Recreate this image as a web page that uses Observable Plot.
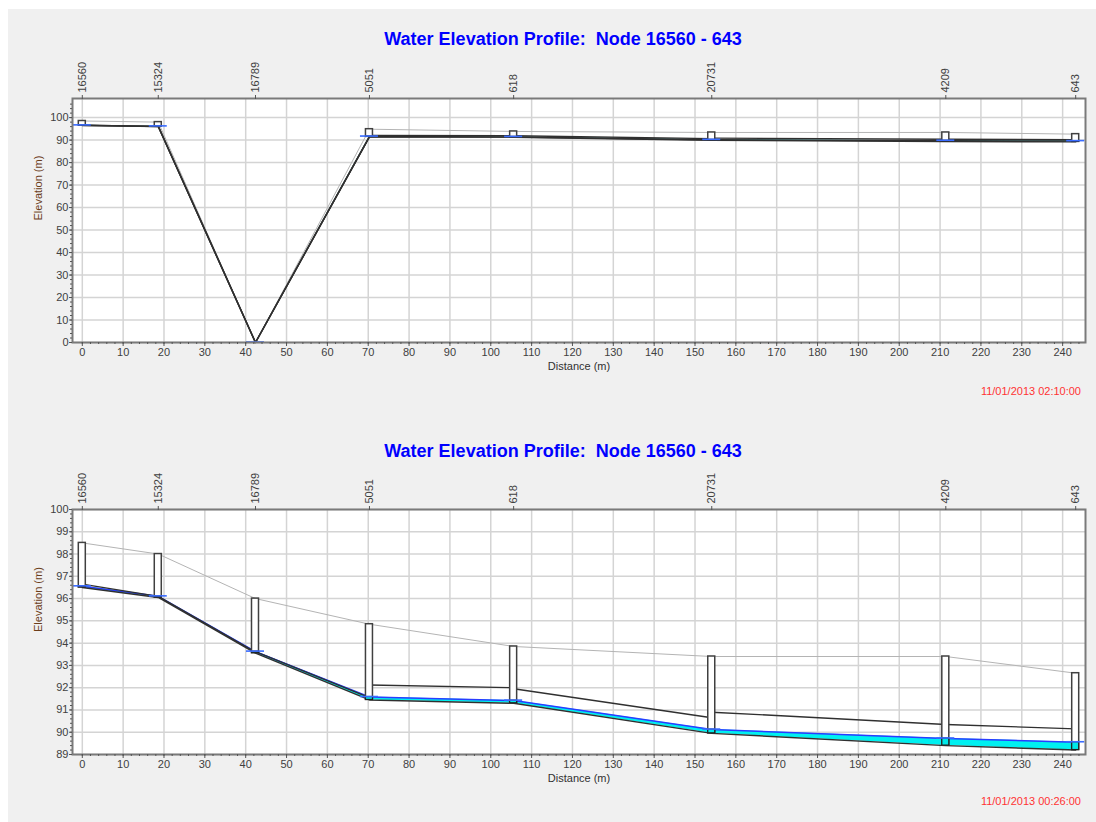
<!DOCTYPE html>
<html><head><meta charset="utf-8">
<script src="https://cdn.jsdelivr.net/npm/d3@7"></script>
<script src="https://cdn.jsdelivr.net/npm/@observablehq/plot@0.6"></script>
<style>
body{margin:0;background:#fff;width:1096px;height:822px;position:relative;overflow:hidden;font-family:"Liberation Sans",Arial,sans-serif;}
#bg{position:absolute;left:8px;top:9px;right:0;bottom:0;background:#f0f0f0;}
.title{position:absolute;left:0;width:1126px;text-align:center;font-weight:bold;font-size:18px;color:#0000ff;white-space:pre;}
.stamp{position:absolute;right:15px;font-size:11px;color:#ff3333;}
.chart{position:absolute;left:0;}
</style></head><body>
<div id="bg"></div>
<div class="title" style="top:29px">Water Elevation Profile:  Node 16560 - 643</div>
<div class="chart" id="c1" style="top:50px"></div>
<div class="stamp" style="top:385px">11/01/2013 02:10:00</div>
<div class="title" style="top:441px">Water Elevation Profile:  Node 16560 - 643</div>
<div class="chart" id="c2" style="top:461px"></div>
<div class="stamp" style="top:795px">11/01/2013 00:26:00</div>
<script>
// Nodes along the profile
const nodes = ["16560", "15324", "16789", "5051", "618", "20731", "4209", "643"];
const distance = [0, 18.6, 42.4, 70.3, 105.6, 154.1, 211.4, 243.2];

// Bottom chart (11/01/2013 00:26:00)
const invert0026 = [96.5, 96.05, 93.55, 91.45, 91.3, 89.95, 89.4, 89.2];
const ground0026 = [98.5, 98.0, 96.0, 94.85, 93.85, 93.4, 93.4, 92.65];
const water0026 = [96.55, 96.1, 93.62, 91.58, 91.42, 90.12, 89.72, 89.55];
const crownUp0026 = [96.65, 96.1, 93.62, 92.12, 91.95, 90.9, 90.35];
const crownDown0026 = [96.1, 93.6, 91.55, 92.0, 90.65, 90.35, 90.15];

// Top chart (11/01/2013 02:10:00) - node 16789 reads 0
const invert0210 = [96.5, 96.05, 0, 91.45, 91.3, 89.95, 89.4, 89.2];
const ground0210 = [98.5, 98.0, 0, 94.85, 93.85, 93.4, 93.4, 92.65];
const water0210 = [96.55, 96.1, 0, 91.58, 91.42, 90.12, 89.72, 89.55];
const crownUp0210 = [96.65, 96.1, 0, 92.12, 91.95, 90.9, 90.35];
const crownDown0210 = [96.1, 0, 91.55, 92.0, 90.65, 90.35, 90.15];

// Axis ticks
const xMajor = d3.range(0, 241, 10);
const xMinor = d3.range(0, 245, 2);
const yMajorTop = d3.range(0, 101, 10);
const yMinorTop = d3.range(0, 108, 2);
const yMajorBottom = d3.range(89, 100.5, 1);
const yMinorBottom = d3.range(89, 100.01, 0.2);

function profile({invert, ground, water, crownUp, crownDown, yDomain, yMajor, yMinor, height, plotHeight, waterLine}) {
  const nodeRows = nodes.map((name, i) => ({name, d: distance[i], invert: invert[i], ground: ground[i], water: water[i]}));
  const pipeRows = crownUp.map((c, i) => ({x1: distance[i], x2: distance[i + 1], y1: c, y2: crownDown[i]}));
  const nameByDist = new Map(nodeRows.map(r => [r.d, r.name]));
  return Plot.plot({
    width: 1096, height,
    marginLeft: 72, marginRight: 11, marginTop: 48, marginBottom: height - 48 - plotHeight,
    style: {background: "transparent", fontFamily: "Liberation Sans, Arial, sans-serif", fontSize: "11px", color: "#404040"},
    x: {domain: [-2.4, 245.6]},
    y: {domain: yDomain},
    marks: [
      Plot.frame({fill: "white", stroke: "none"}),
      Plot.gridX(xMajor, {stroke: "#d4d4d4", strokeOpacity: 1, strokeWidth: 1.5}),
      Plot.gridY(yMajor, {stroke: "#d4d4d4", strokeOpacity: 1, strokeWidth: 1.5}),
      Plot.areaY(nodeRows, {x: "d", y1: "invert", y2: "water", fill: "#00f0f0"}),
      Plot.line(nodeRows, {x: "d", y: "ground", stroke: "#b4b4b4", strokeWidth: 1}),
      Plot.line(nodeRows, {x: "d", y: "water", stroke: waterLine, strokeWidth: 1.5}),
      Plot.line(nodeRows, {x: "d", y: "invert", stroke: "#303030", strokeWidth: 1.4}),
      Plot.link(pipeRows, {x1: "x1", y1: "y1", x2: "x2", y2: "y2", stroke: "#303030", strokeWidth: 1.4}),
      Plot.rect(nodeRows, {x1: "d", x2: "d", y1: "invert", y2: "ground", insetLeft: -3.5, insetRight: -3.5, fill: "white", stroke: "#404040", strokeWidth: 1.5}),
      Plot.rect(nodeRows, {x1: "d", x2: "d", y1: "invert", y2: "water", insetLeft: -3.5, insetRight: -3.5, fill: "#00e8e8", stroke: "#202020", strokeWidth: 1.2}),
      Plot.rect(nodeRows, {x1: "d", x2: "d", y1: "water", y2: "water", insetLeft: -9, insetRight: -9, insetTop: -0.8, insetBottom: -0.8, fill: "#3a6cff"}),
      Plot.frame({stroke: "#7a7a7a", strokeWidth: 2}),
      Plot.axisX(xMajor, {anchor: "bottom", tickSize: 4, tickPadding: 2, label: null, stroke: "#555"}),
      Plot.axisX(xMinor, {anchor: "bottom", tickSize: 2, fill: "none", stroke: "#555", label: null}),
      Plot.axisY(yMajor, {anchor: "left", tickSize: 3, tickPadding: 1, label: null, stroke: "#555"}),
      Plot.axisY(yMinor, {anchor: "left", tickSize: 2, fill: "none", stroke: "#555", label: null}),
      Plot.axisX(distance, {anchor: "top", tickSize: 4, tickPadding: 2, tickRotate: -90, textAnchor: "start", lineAnchor: "middle", tickFormat: d => nameByDist.get(d), label: null, stroke: "#555"}),
      Plot.text(["Distance (m)"], {frameAnchor: "bottom", dy: 27, fill: "#303030"}),
      Plot.text(["Elevation (m)"], {frameAnchor: "left", dx: -34, rotate: -90, fill: "#6b3d1a"})
    ]
  });
}

document.getElementById("c1").appendChild(profile({
  invert: invert0210, ground: ground0210, water: water0210, crownUp: crownUp0210, crownDown: crownDown0210,
  yDomain: [0, 108.5], yMajor: yMajorTop, yMinor: yMinorTop, height: 328, plotHeight: 244, waterLine: "#303030"
}));
document.getElementById("c2").appendChild(profile({
  invert: invert0026, ground: ground0026, water: water0026, crownUp: crownUp0026, crownDown: crownDown0026,
  yDomain: [89, 100], yMajor: yMajorBottom, yMinor: yMinorBottom, height: 329, plotHeight: 245, waterLine: "#2a3cff"
}));
</script>
</body></html>
